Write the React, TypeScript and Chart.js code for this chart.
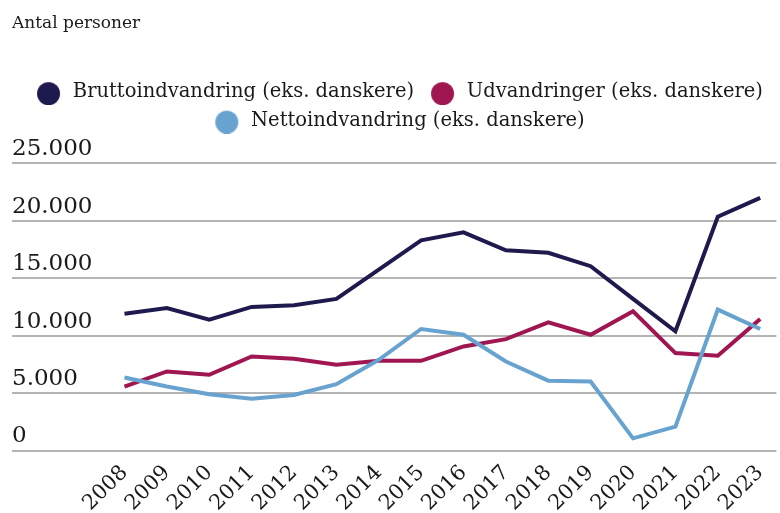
import { useEffect, useRef } from 'react';
import { Chart, registerables } from 'chart.js';

Chart.register(...registerables);

const years = [2008, 2009, 2010, 2011, 2012, 2013, 2014, 2015, 2016, 2017, 2018, 2019, 2020, 2021, 2022, 2023];
const brutto = [11900, 12400, 11400, 12500, 12650, 13200, 15750, 18300, 19000, 17430, 17220, 16050, 13200, 10380, 20360, 22000];
const udvandring = [5570, 6880, 6590, 8190, 7990, 7460, 7810, 7810, 9060, 9700, 11160, 10080, 12120, 8480, 8250, 11450];
const netto = [6360, 5570, 4900, 4500, 4840, 5780, 7900, 10580, 10080, 7750, 6080, 6000, 1060, 2080, 12270, 10580];
const yTicks = [0, 5000, 10000, 15000, 20000, 25000];
const seriesNames = [
  'Bruttoindvandring (eks. danskere)',
  'Udvandringer (eks. danskere)',
  'Nettoindvandring (eks. danskere)',
];
const seriesColors = ['#1f1a4d', '#a01650', '#68a3d0'];
const yTitle = 'Antal personer';

const FONT = "'DejaVu Serif', serif";

function fmt(v: number): string {
  return String(v).replace(/\B(?=(\d{3})+(?!\d))/g, '.');
}

function legendDot(color: string): HTMLCanvasElement {
  const c = document.createElement('canvas');
  c.width = 34;
  c.height = 26;
  const ctx = c.getContext('2d')!;
  ctx.fillStyle = color;
  ctx.beginPath();
  ctx.arc(19.5, 14.5, 11.5, 0, Math.PI * 2);
  ctx.fill();
  return c;
}

export default function App() {
  const ref = useRef<HTMLCanvasElement | null>(null);

  useEffect(() => {
    document.body.style.margin = '0';
    if (!ref.current) return;
    const series = [brutto, udvandring, netto];
    const orders = [2, 1, 0];
    const chart = new Chart(ref.current, {
      type: 'line',
      data: {
        datasets: series.map((vals, i) => ({
          label: seriesNames[i],
          data: vals.map((v, j) => ({ x: years[j], y: v })),
          borderColor: seriesColors[i],
          backgroundColor: seriesColors[i],
          borderWidth: 4,
          pointRadius: 0,
          pointHoverRadius: 0,
          pointStyle: legendDot(seriesColors[i]),
          tension: 0,
          fill: false,
          order: orders[i],
        })),
      },
      options: {
        animation: false,
        responsive: false,
        layout: { padding: { left: 12, right: 0, top: 0, bottom: 0 } },
        plugins: {
          tooltip: { enabled: false },
          title: {
            display: true,
            text: yTitle,
            align: 'start',
            color: '#1a1a1a',
            font: { family: FONT, size: 17, weight: 'normal' },
            padding: { top: 13, bottom: 40 },
          },
          legend: {
            display: true,
            position: 'top',
            align: 'center',
            labels: {
              usePointStyle: true,
              pointStyleWidth: 34,
              boxHeight: 20,
              padding: 9,
              color: '#1a1a1a',
              font: { family: FONT, size: 19.5 },
              sort: (a: any, b: any) => a.datasetIndex - b.datasetIndex,
            },
          },
          subtitle: {
            display: true,
            text: '',
            position: 'top',
            weight: 500,
            font: { size: 10 },
            padding: { top: 0, bottom: 11 },
          },
        },
        scales: {
          x: {
            type: 'linear',
            min: 2005.346,
            max: 2023.383,
            afterBuildTicks: (axis: any) => {
              axis.ticks = years.map((v) => ({ value: v }));
            },
            afterFit: (axis: any) => {
              axis.height = 62.5;
            },
            grid: { display: false },
            border: { display: false },
            ticks: {
              autoSkip: false,
              minRotation: 45,
              maxRotation: 45,
              padding: 2,
              color: '#1a1a1a',
              font: { family: FONT, size: 21 },
              callback: (v: any) => String(v),
            },
          },
          y: {
            min: 0,
            max: 25000,
            afterBuildTicks: (axis: any) => {
              axis.ticks = yTicks.map((v) => ({ value: v }));
            },
            grid: { color: '#b4b4b4', lineWidth: 2, drawTicks: false },
            border: { display: false },
            ticks: {
              mirror: true,
              padding: 0,
              labelOffset: -14,
              color: '#1a1a1a',
              font: { family: FONT, size: 23 },
              callback: (v: any) => fmt(Number(v)),
            },
          },
        },
      },
    });
    return () => chart.destroy();
  }, []);

  return (
    <div style={{ width: 780, height: 513 }}>
      <canvas ref={ref} width={780} height={513} style={{ display: 'block' }} />
    </div>
  );
}
